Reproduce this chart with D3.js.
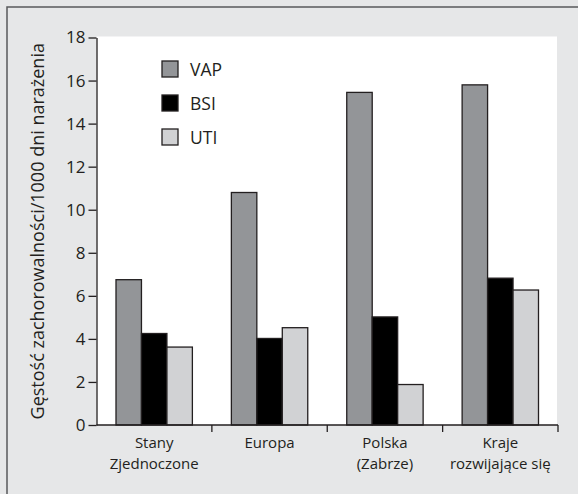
<!DOCTYPE html>
<html><head><meta charset="utf-8">
<script src="https://cdn.jsdelivr.net/npm/d3@7"></script>
<style>
html,body{margin:0;padding:0;background:#e6e7e8;}
text{font-family:"Open Sans",sans-serif;fill:#231f20;}
</style></head>
<body>
<script>
const categories = [["Stany","Zjednoczone"],["Europa"],["Polska","(Zabrze)"],["Kraje","rozwijające się"]];
const seriesNames = ["VAP","BSI","UTI"];
const seriesColors = ["#939598","#000000","#d1d2d4"];
const vap = [6.75, 10.8, 15.45, 15.8];
const bsi = [4.25, 4.02, 5.02, 6.82];
const uti = [3.62, 4.52, 1.88, 6.27];
const yTicks = [0,2,4,6,8,10,12,14,16,18];
const yTitle = "Gęstość zachorowalności/1000 dni narażenia";

const W = 578, H = 494;
const svg = d3.select("body").append("svg").attr("width", W).attr("height", H);
svg.append("rect").attr("width", W).attr("height", H).attr("fill", "#e6e7e8");
// frame
svg.append("rect").attr("x", 7).attr("y", 7).attr("width", W + 20).attr("height", H + 20)
  .attr("fill", "none").attr("stroke", "#58595b").attr("stroke-width", 1.5);

const pL = 96.5, pR = 558, pT = 37.5, pB = 425;
// white plot area
svg.append("rect").attr("x", pL).attr("y", pT - 1).attr("width", 557 - pL).attr("height", pB - pT + 1).attr("fill", "#ffffff");

const x = d3.scaleBand().domain(d3.range(categories.length)).range([pL, pR]).paddingInner(0.338).paddingOuter(0.169);
const xs = d3.scaleBand().domain(seriesNames).range([0, x.bandwidth()]);
const y = d3.scaleLinear().domain([0, 18]).range([pB, pT]);

const data = [vap, bsi, uti];
const g = svg.append("g");
seriesNames.forEach((s, si) => {
  g.selectAll(".b" + si).data(data[si]).enter().append("rect")
    .attr("x", (d, i) => x(i) + xs(s))
    .attr("y", d => y(d))
    .attr("width", xs.bandwidth())
    .attr("height", d => pB - y(d))
    .attr("fill", seriesColors[si])
    .attr("stroke", "#231f20").attr("stroke-width", 1.3);
});

// y axis
const yAxis = svg.append("g").attr("transform", `translate(${pL},0)`)
  .call(d3.axisLeft(y).tickValues(yTicks).tickSize(8).tickPadding(3).tickSizeOuter(0));
yAxis.select(".domain").attr("stroke", "#231f20").attr("stroke-width", 1.3);
yAxis.selectAll(".tick line").attr("stroke", "#231f20").attr("stroke-width", 1.3);
yAxis.selectAll(".tick text").attr("font-size", 17).attr("font-family", "Open Sans").attr("fill", "#231f20");

// x axis with boundary ticks
const step = x.step();
const boundaries = d3.range(1, categories.length + 1).map(i => pL + i * step);
svg.append("line").attr("x1", pL).attr("x2", pR).attr("y1", pB).attr("y2", pB)
  .attr("stroke", "#231f20").attr("stroke-width", 1.3);
svg.selectAll(".xt").data(boundaries).enter().append("line")
  .attr("x1", d => d).attr("x2", d => d).attr("y1", pB).attr("y2", pB + 7)
  .attr("stroke", "#231f20").attr("stroke-width", 1.3);
categories.forEach((lines, i) => {
  lines.forEach((l, k) => svg.append("text").attr("text-anchor", "middle").attr("font-size", 15)
    .attr("x", x(i) + x.bandwidth() / 2).attr("y", 448 + k * 20.5).text(l));
});

// y title
svg.append("text").attr("transform", `translate(44,${(pT + pB) / 2}) rotate(-90)`)
  .attr("text-anchor", "middle").attr("font-size", 18).text(yTitle);

// legend
const leg = svg.append("g");
seriesNames.forEach((s, i) => {
  const yy = 61 + i * 34;
  leg.append("rect").attr("x", 162).attr("y", yy).attr("width", 16).attr("height", 16)
    .attr("fill", seriesColors[i]).attr("stroke", "#231f20").attr("stroke-width", 1.3);
  leg.append("text").attr("x", 190).attr("y", yy + 15).attr("font-size", 17.5).text(s);
});
</script>
</body></html>
